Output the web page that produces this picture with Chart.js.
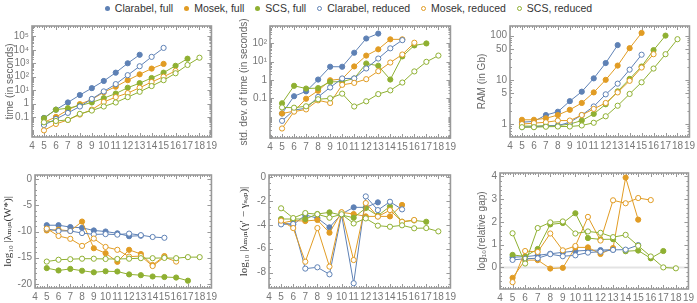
<!DOCTYPE html>
<html><head><meta charset="utf-8">
<script src="https://cdn.jsdelivr.net/npm/chart.js@4"></script>
<style>
body{margin:0;background:#fff;width:697px;height:303px;overflow:hidden;position:relative;font-family:'Liberation Sans',Arial,sans-serif}
canvas{position:absolute}
#legend{position:absolute;top:2px;left:0;width:697px;display:flex;justify-content:center;gap:11px;font-size:10.5px;color:#333;line-height:13px}
#legend span{display:flex;align-items:center;white-space:nowrap}
#legend i{display:inline-block;width:5px;height:5px;border-radius:50%;margin-right:5px;box-sizing:border-box}
</style></head><body>
<div id="legend"></div>
<script>
// ---------- data ----------
const nValues = [5,6,7,8,9,10,11,12,13,14,15,16,17,18];
const seriesNames = ['Clarabel, full','Mosek, full','SCS, full','Clarabel, reduced','Mosek, reduced','SCS, reduced'];

const timeClarabelFull = [0.085,0.35,1.2,4.3,14,48,200,1000,4300];
const timeMosekFull    = [0.04,0.1,0.33,0.9,2,7,18,55,150,400,900];
const timeScsFull      = [0.08,0.35,0.45,0.7,1.2,2.5,5.5,15,33,80,200,650,2200];
const timeClarabelRed  = [0.025,0.07,0.2,0.6,2.2,8,28,130,600,3000,14000];
const timeMosekRed     = [0.01,0.03,0.06,0.15,0.35,1.3,3,6,15,40,100,270];
const timeScsRed       = [0.04,0.05,0.06,0.17,0.3,0.6,1.2,3,7.5,20,55,180,750,2600];

const stdClarabelFull = [0.015,0.13,0.24,1.05,5.2,5.2,30,178,330];
const stdMosekFull    = [0.015,0.02,0.095,0.26,0.96,1.13,5.4,21,46,160,160];
const stdScsFull      = [0.054,0.48,0.34,0.36,0.78,0.81,1.2,7.8,5.9,1.05,19,75,96];
const stdClarabelRed  = [0.006,0.023,0.029,0.12,0.39,1.2,1.2,4.2,14.5,52,145];
const stdMosekRed     = [0.0023,0.019,0.025,0.078,0.056,0.54,0.69,1.1,3,8.8,24,105];
const stdScsRed       = [0.032,0.031,0.037,0.089,0.1,0.18,0.036,0.069,0.17,0.27,0.72,2.9,9.6,21];

const ramClarabelFull = [1.1,1.15,1.6,1.9,3.3,5.4,10.8,24,61];
const ramMosekFull    = [1.25,1.25,1.35,1.6,2.1,3,5.2,10,21,52,115];
const ramScsFull      = [0.9,0.9,0.92,0.92,1.0,1.2,1.7,2.8,5.5,10.5,20,47,100];
const ramClarabelRed  = [0.85,0.87,0.9,0.92,1.1,1.6,2.5,4.7,8.2,17,37];
const ramMosekRed     = [1.0,1.05,1.1,1.2,1.2,1.6,2.2,3,5.2,9.5,19,38];
const ramScsRed       = [0.85,0.85,0.87,0.88,0.88,0.93,1.07,1.5,2.6,4.8,8.8,18,38,83];

const eigWClarabelFull = [-8.8,-8.8,-9.15,-9.3,-9.8,-10.0,-10.35,-10.9,-10.8];
const eigWMosekFull    = [-9.8,-9.65,-9.9,-8.1,-13.2,-14.15,-15.8,-13.5,-14.3,-16.4,-14.7];
const eigWScsFull      = [-17.0,-17.45,-17.15,-17.5,-17.8,-17.6,-17.65,-18.2,-18.35,-18.6,-18.7,-18.8,-19.4];
const eigWClarabelRed  = [-9.5,-9.9,-9.9,-10.3,-10.55,-10.5,-10.6,-10.4,-10.7,-11.05,-11.2];
const eigWMosekRed     = [-9.45,-10.85,-11.4,-12.75,-11.35,-12.95,-13.5,-14.8,-14.7,-16.6,-14.9,-15.75];
const eigWScsRed       = [-15.75,-15.4,-15.3,-15.2,-15.2,-15.25,-15.25,-15.2,-15.1,-15.1,-15.05,-15.1,-14.9,-14.9];

const eigGClarabelFull = [-3.8,-3.98,-3.17,-3.42,-4.2,-3.08,-2.52,-2.52,-2.1];
const eigGMosekFull    = [-3.85,-3.64,-3.67,-3.58,-4.65,-2.94,-3.08,-3.28,-3.28,-3.28,-2.32];
const eigGScsFull      = [-3.5,-3.5,-3.5,-3.08,-2.94,-3.17,-3.39,-2.58,-3.22,-2.44,-3.73,-3.62,-3.73];
const eigGClarabelRed  = [-3.95,-3.92,-7.67,-7.56,-8.15,-3.14,-8.9,-1.6,-2.75,-2.05,-2.69];
const eigGMosekRed     = [-3.64,-4.26,-7.09,-4.26,-7.5,-2.94,-6.95,-2.16,-3.3,-2.75,-3.73,-3.58];
const eigGScsRed       = [-2.6,-3.42,-3.0,-3.1,-3.39,-3.1,-3.87,-3.45,-4.06,-4.15,-4.03,-4.28,-4.26,-4.54];

const gapClarabelFull = [0.45,0.47,0.53,0.6,0.66,0.72,0.75,0.76,0.78];
const gapMosekFull    = [-0.46,0.32,0.32,-0.05,-0.02,0.88,0.88,0.59,0.85,3.95,2.1];
const gapScsFull      = [0.55,0.48,0.81,1.89,1.95,2.38,1.29,1.23,1.24,0.71,0.74,0.4,0.72];
const gapClarabelRed  = [0.33,0.38,0.4,0.58,0.49,0.53,0.65,0.69,0.77,0.78,0.98];
const gapMosekRed     = [-0.65,0.72,0.68,1.49,0.75,0.94,2.22,1.18,2.95,2.82,3.05,2.96];
const gapScsRed       = [1.5,0.17,1.73,1.98,2.02,1.49,1.58,1.52,1.33,1.43,0.95,0.48,0.0,-0.04];

const timeTicks = [0.1,1,10,100,1e3,1e4,1e5];
const timeTickLabels = ['0.1','1','10¹','10²','10³','10⁴','10⁵'];
const stdTicks = [0.1,1,10,100];
const stdTickLabels = ['0.1','1','10¹','10²'];
const ramTicks = [1,5,10,50,100];
const ramTickLabels = ['1','5','10','50','100'];
const eigWTicks = [0,-5,-10,-15,-20];
const eigGTicks = [0,-2,-4,-6,-8];
const gapTicks = [0,1,2,3,4];
const xTicks = [4,5,6,7,8,9,10,11,12,13,14,15,16,17,18,19];

// ---------- styles ----------
const COLORS = ['#5E81B5','#E19C24','#8FB032','#5E81B5','#E19C24','#8FB032'];
const FILLED = [true,true,true,false,false,false];
const TICK_COLOR = '#777';
const FRAME_COLOR = '#999';

// legend
const lg = document.getElementById('legend');
seriesNames.forEach((n,i)=>{
  const s=document.createElement('span');
  const d=document.createElement('i');
  if(FILLED[i]) d.style.background=COLORS[i]; else d.style.border='1.3px solid '+COLORS[i];
  s.appendChild(d); s.appendChild(document.createTextNode(n)); lg.appendChild(s);
});

function logMinors(min,max,majors){
  const out=[];
  for(let d=Math.floor(Math.log10(min)); d<=Math.ceil(Math.log10(max)); d++){
    for(let k=1;k<10;k++){const v=k*Math.pow(10,d); if(v>=min&&v<=max&&!majors.includes(v)) out.push(v);}
  }
  return out;
}
function linMinors(min,max,step){
  const out=[]; for(let v=Math.ceil(min/step)*step; v<=max+1e-9; v+=step) out.push(+v.toFixed(6)); return out;
}

const framePlugin = {
  id:'frame',
  beforeDatasetsDraw(chart, args, o){
    const {ctx, chartArea:a, scales:{x,y}} = chart;
    ctx.save();
    if(o.zeroLine){
      const py=y.getPixelForValue(0);
      ctx.strokeStyle='#e3e3e3'; ctx.lineWidth=2;
      ctx.beginPath(); ctx.moveTo(a.left,py); ctx.lineTo(a.right,py); ctx.stroke();
    }
    ctx.strokeStyle=FRAME_COLOR; ctx.lineWidth=1;
    ctx.beginPath();
    xTicks.forEach(v=>{const px=Math.round(x.getPixelForValue(v))+0.5; ctx.moveTo(px,a.bottom); ctx.lineTo(px,a.bottom-4); ctx.moveTo(px,a.top); ctx.lineTo(px,a.top+4);});
    for(let v=4.2; v<19; v+=0.2){ if(Math.abs(v-Math.round(v))<1e-6) continue; const px=Math.round(x.getPixelForValue(v))+0.5; ctx.moveTo(px,a.bottom); ctx.lineTo(px,a.bottom-2); ctx.moveTo(px,a.top); ctx.lineTo(px,a.top+2);}
    o.major.forEach(v=>{const py=Math.round(y.getPixelForValue(v))+0.5; ctx.moveTo(a.left,py); ctx.lineTo(a.left+4,py); ctx.moveTo(a.right,py); ctx.lineTo(a.right-4,py);});
    o.minor.forEach(v=>{const py=Math.round(y.getPixelForValue(v))+0.5; ctx.moveTo(a.left,py); ctx.lineTo(a.left+2,py); ctx.moveTo(a.right,py); ctx.lineTo(a.right-2,py);});
    ctx.stroke();
    ctx.lineWidth=1.6;
    ctx.strokeRect(a.left,a.top,a.right-a.left,a.bottom-a.top);
    ctx.restore();
  }
};

const panels = [
  {box:[32,213,25,137], tx:4, type:'logarithmic', min:0.0032, max:6e5, major:timeTicks, labels:timeTickLabels,
   title:'time (in seconds)', serif:false, series:[timeClarabelFull,timeMosekFull,timeScsFull,timeClarabelRed,timeMosekRed,timeScsRed]},
  {box:[270,452,25,138], tx:238, type:'logarithmic', min:0.0007, max:850, major:stdTicks, labels:stdTickLabels,
   title:'std. dev. of time (in seconds)', serif:false, series:[stdClarabelFull,stdMosekFull,stdScsFull,stdClarabelRed,stdMosekRed,stdScsRed]},
  {box:[510,691,25,137], tx:476, type:'logarithmic', min:0.51, max:165, major:ramTicks, labels:ramTickLabels,
   title:'RAM (in Gb)', serif:false, series:[ramClarabelFull,ramMosekFull,ramScsFull,ramClarabelRed,ramMosekRed,ramScsRed]},
  {box:[35,213,174,288], tx:2, type:'linear', min:-20.8, max:0.8, major:eigWTicks, labels:null, minorStep:1,
   title:'log₁₀ |λₘᵢₙ(W*)|', serif:true, series:[eigWClarabelFull,eigWMosekFull,eigWScsFull,eigWClarabelRed,eigWMosekRed,eigWScsRed]},
  {box:[269,452,174,288], tx:238, type:'linear', min:-9.3, max:0.2, major:eigGTicks, labels:null, minorStep:0.5,
   title:'log₁₀ |λₘᵢₙ(γ′ − γₛₑₚ)|', serif:true, series:[eigGClarabelFull,eigGMosekFull,eigGScsFull,eigGClarabelRed,eigGMosekRed,eigGScsRed]},
  {box:[500,690,172,289], tx:476, type:'linear', min:-0.95, max:4.15, major:gapTicks, labels:null, minorStep:0.2, zero:true,
   title:'log₁₀(relative gap)', serif:false, series:[gapClarabelFull,gapMosekFull,gapScsFull,gapClarabelRed,gapMosekRed,gapScsRed]},
];

const PT=8, PR=7, XH=18;
panels.forEach(p=>{
  const [L,R,T,B]=p.box;
  const cl=p.tx, ct=T-PT, cw=R-cl+PR, ch=B-ct+XH;
  const cv=document.createElement('canvas');
  cv.width=cw; cv.height=ch; cv.style.left=cl+'px'; cv.style.top=ct+'px'; cv.style.width=cw+'px'; cv.style.height=ch+'px';
  document.body.appendChild(cv);
  const minor = p.type==='logarithmic' ? logMinors(p.min,p.max,p.major) : linMinors(p.min,p.max,p.minorStep).filter(v=>!p.major.includes(v));
  const datasets = p.series.map((arr,i)=>({
    label: seriesNames[i],
    data: arr.map((v,j)=>({x:nValues[j], y:v})),
    borderColor: COLORS[i], borderWidth: 1,
    pointBackgroundColor: FILLED[i]?COLORS[i]:'#fff',
    pointBorderColor: COLORS[i], pointBorderWidth: 1,
    pointRadius: 2.6, tension:0, fill:false
  })).reverse();
  new Chart(cv,{
    type:'line',
    data:{datasets},
    plugins:[framePlugin],
    options:{
      animation:false, responsive:false, maintainAspectRatio:false, devicePixelRatio:1,
      layout:{padding:{left:0,right:PR,top:PT,bottom:0}},
      plugins:{legend:{display:false}, tooltip:{enabled:false},
        frame:{major:p.major, minor, zeroLine:!!p.zero}},
      scales:{
        x:{type:'linear', min:4, max:19, offset:false,
           grid:{display:false, drawTicks:false}, border:{display:false},
           afterBuildTicks:s=>{s.ticks=xTicks.map(v=>({value:v}));},
           ticks:{autoSkip:false, maxRotation:0, padding:3, color:TICK_COLOR, font:{size:10, family:"'Liberation Sans',Arial,sans-serif"}, callback:v=>String(v)},
           afterFit:s=>{s.height=XH;}},
        y:{type:p.type, min:p.min, max:p.max,
           grid:{display:false, drawTicks:false}, border:{display:false},
           afterBuildTicks:s=>{s.ticks=p.major.map(v=>({value:v}));},
           ticks:{autoSkip:false, padding:3, color:TICK_COLOR, font:{size:10, family:"'Liberation Sans',Arial,sans-serif"},
             callback:(v)=>{ const k=p.major.indexOf(v); return p.labels? (k>=0?p.labels[k]:'') : String(v); }},
           title:{display:true, text:p.title, padding:0,
             color: p.serif?'#333':'#666',
             font: p.serif?{size:11, family:"'Liberation Serif','DejaVu Serif',serif"}:{size:10, family:"'Liberation Sans',Arial,sans-serif"}},
           afterFit:s=>{s.width=L-cl;}}
      }
    }
  });
});
</script>
</body></html>
